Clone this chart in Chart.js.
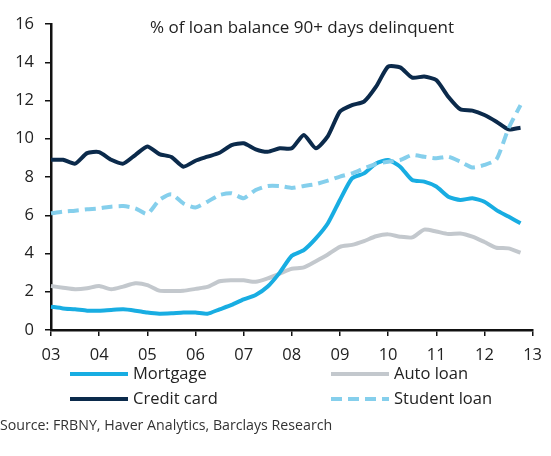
<!DOCTYPE html>
<html>
<head>
<meta charset="utf-8">
<script src="https://cdn.jsdelivr.net/npm/chart.js@4.4.1/dist/chart.umd.min.js"></script>
<style>
  body { margin: 0; background: #fff; font-family: "Open Sans", sans-serif; color: #222; }
  #wrap { position: relative; width: 551px; height: 456px; overflow: hidden; }
  #chart { position: absolute; left: 0; top: 0; }
  .title { position: absolute; left: 150px; top: 15px; font-size: 17px; line-height: 24px; white-space: nowrap; }
  .leg { position: absolute; font-size: 16.5px; line-height: 22px; white-space: nowrap; }
  .sw { position: absolute; width: 58px; height: 4px; }
  .source { position: absolute; left: 0; top: 414px; font-size: 14.2px; line-height: 22px; white-space: nowrap; color: #333; }
</style>
</head>
<body>
<div id="wrap">
  <canvas id="chart" width="551" height="365"></canvas>
  <div class="title">% of loan balance 90+ days delinquent</div>
  <div id="legend"></div>
  <div class="source">Source: FRBNY, Haver Analytics, Barclays Research</div>
</div>
<script>
// quarters 2003 Q1 .. 2013 Q1 (last one has no data, it closes the axis)
var quarters = [
  "03Q1","03Q2","03Q3","03Q4","04Q1","04Q2","04Q3","04Q4",
  "05Q1","05Q2","05Q3","05Q4","06Q1","06Q2","06Q3","06Q4",
  "07Q1","07Q2","07Q3","07Q4","08Q1","08Q2","08Q3","08Q4",
  "09Q1","09Q2","09Q3","09Q4","10Q1","10Q2","10Q3","10Q4",
  "11Q1","11Q2","11Q3","11Q4","12Q1","12Q2","12Q3","12Q4",
  "13Q1"
];
var yearLabels = ["03","04","05","06","07","08","09","10","11","12","13"];

var mortgage = [1.22,1.13,1.08,1.01,1.01,1.05,1.08,1.01,0.91,0.85,0.87,0.91,0.91,0.85,1.08,1.31,
  1.60,1.83,2.27,3.00,3.88,4.18,4.79,5.58,6.80,7.93,8.19,8.71,8.89,8.54,7.84,7.76,
  7.50,6.97,6.80,6.89,6.71,6.27,5.93,5.58];
var autoLoan = [2.30,2.21,2.13,2.18,2.30,2.13,2.27,2.44,2.35,2.06,2.04,2.05,2.15,2.25,2.55,2.60,
  2.60,2.52,2.70,2.95,3.20,3.27,3.60,3.95,4.35,4.45,4.65,4.90,5.00,4.88,4.84,5.25,
  5.15,5.02,5.05,4.88,4.60,4.30,4.27,4.04];
var creditCard = [8.90,8.90,8.70,9.25,9.30,8.90,8.70,9.15,9.60,9.20,9.05,8.54,8.85,9.06,9.27,9.67,
  9.76,9.45,9.32,9.50,9.50,10.20,9.50,10.14,11.42,11.76,11.94,12.72,13.77,13.73,13.20,13.25,
  13.07,12.20,11.54,11.47,11.24,10.89,10.49,10.58];
var studentLoan = [6.10,6.19,6.24,6.31,6.36,6.45,6.48,6.36,6.07,6.80,7.10,6.62,6.41,6.71,7.06,7.15,
  6.89,7.32,7.53,7.53,7.43,7.53,7.63,7.81,8.02,8.19,8.45,8.68,8.80,8.89,9.15,9.06,
  8.98,9.06,8.80,8.50,8.63,8.92,10.54,11.76];

var seriesNames = ["Mortgage", "Auto loan", "Credit card", "Student loan"];
var seriesColors = ["#18ade2", "#c3c8cd", "#0b2a4b", "#85cfec"];
var seriesData = [mortgage, autoLoan, creditCard, studentLoan];
var dashed = [false, false, false, true];

var datasets = seriesData.map(function (d, i) {
  return {
    label: seriesNames[i],
    data: d,
    borderColor: seriesColors[i],
    borderWidth: 4,
    borderDash: dashed[i] ? [11, 6] : [],
    borderJoinStyle: "round",
    pointRadius: 0,
    tension: 0.2,
    fill: false,
    order: [3, 4, 2, 1][i]
  };
});

new Chart("chart", {
  type: "line",
  data: { labels: quarters, datasets: datasets },
  options: {
    responsive: false,
    animation: false,
    layout: { padding: { left: 0, top: 24, right: 10, bottom: 0 } },
    plugins: { legend: { display: false }, title: { display: false }, tooltip: { enabled: false } },
    scales: {
      x: {
        offset: false,
        afterFit: function (s) { s.height = 35; },
        border: { color: "#111", width: 2.5 },
        grid: { drawOnChartArea: false, drawTicks: true, tickLength: 6, color: "#111", lineWidth: 1.5 },
        ticks: {
          autoSkip: false, maxRotation: 0, padding: 9,
          color: "#222", font: { family: "Open Sans", size: 16.5 },
          callback: function (v, i) { return i % 4 === 0 ? yearLabels[i / 4] : null; }
        }
      },
      y: {
        min: 0, max: 16,
        afterFit: function (s) { s.width = 51; },
        border: { color: "#111", width: 2.5 },
        grid: { drawOnChartArea: false, drawTicks: true, tickLength: 6, color: "#111", lineWidth: 1.5 },
        ticks: { stepSize: 2, padding: 11, color: "#222", font: { family: "Open Sans", size: 16.5 } }
      }
    }
  }
});

// legend: two columns, two rows
var legendPos = [[70, 374], [331, 374], [70, 399], [331, 399]];
var legend = document.getElementById("legend");
seriesNames.forEach(function (name, i) {
  var sw = document.createElement("div");
  sw.className = "sw";
  sw.style.left = legendPos[i][0] + "px";
  sw.style.top = (legendPos[i][1] - 2) + "px";
  if (dashed[i]) {
    sw.style.background = "repeating-linear-gradient(90deg," + seriesColors[i] + " 0 11px, transparent 11px 17px)";
  } else {
    sw.style.background = seriesColors[i];
  }
  legend.appendChild(sw);
  var t = document.createElement("div");
  t.className = "leg";
  t.textContent = name;
  t.style.left = (legendPos[i][0] + 63) + "px";
  t.style.top = (legendPos[i][1] - 12) + "px";
  legend.appendChild(t);
});
</script>
</body>
</html>
